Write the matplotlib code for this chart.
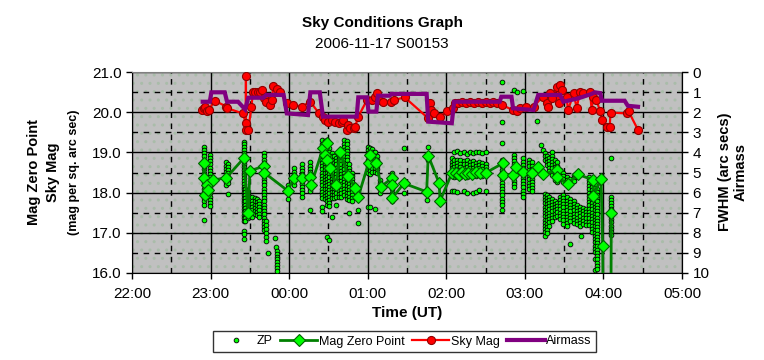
import matplotlib
matplotlib.use('Agg')
import matplotlib.pyplot as plt
from matplotlib.lines import Line2D
from matplotlib.patches import Rectangle
from matplotlib.ticker import MultipleLocator, FormatStrFormatter

plt.rcParams['font.family'] = ['Liberation Sans', 'DejaVu Sans']

# time axis in hours, values above 24 are after midnight
hour_ticks = [22, 23, 24, 25, 26, 27, 28, 29]
hour_labels = ['22:00', '23:00', '00:00', '01:00', '02:00', '03:00', '04:00', '05:00']

sky_time = [22.89, 22.91, 22.93, 22.96, 22.98, 23.05, 23.20, 23.21, 23.41, 23.45, 23.45, 23.45,
            23.48, 23.52, 23.54, 23.57, 23.60, 23.63, 23.65, 23.68, 23.71, 23.76, 23.78, 23.80,
            23.84, 23.88, 23.97, 24.05, 24.16, 24.27, 24.38, 24.43, 24.46, 24.50, 24.54, 24.58,
            24.63, 24.67, 24.69, 24.73, 24.75, 24.77, 24.82, 24.84, 24.88, 24.99, 25.05, 25.09,
            25.12, 25.14, 25.20, 25.30, 25.33, 25.47, 25.77, 25.79, 25.81, 25.84, 25.92, 26.01,
            26.09, 26.11, 26.15, 26.20, 26.25, 26.30, 26.35, 26.40, 26.45, 26.50, 26.55, 26.60,
            26.65, 26.71, 26.85, 26.90, 26.94, 27.02, 27.11, 27.23, 27.28, 27.30, 27.32, 27.34,
            27.41, 27.43, 27.45, 27.47, 27.53, 27.55, 27.62, 27.66, 27.70, 27.74, 27.83, 27.85,
            27.87, 27.91, 27.96, 27.98, 28.04, 28.08, 28.09, 28.30, 28.32, 28.44]
sky_mag = [20.06, 20.10, 20.14, 20.02, 20.06, 20.29, 20.14, 20.10, 19.97, 19.72, 20.91, 19.56,
           19.56, 20.14, 20.51, 20.51, 20.51, 20.51, 20.55, 20.35, 20.26, 20.18, 20.30, 20.65,
           20.57, 20.51, 20.22, 20.18, 20.14, 20.26, 19.97, 19.89, 19.80, 19.76, 19.80, 19.76,
           19.72, 19.76, 19.80, 19.56, 19.68, 19.60, 19.60, 19.64, 19.89, 20.30, 20.30, 20.39,
           20.47, 20.30, 20.26, 20.26, 20.30, 20.37, 19.85, 20.22, 20.06, 19.97, 19.89, 20.02,
           20.10, 20.22, 20.24, 20.25, 20.23, 20.26, 20.24, 20.25, 20.23, 20.26, 20.24, 20.25,
           20.24, 20.18, 20.05, 20.02, 20.10, 20.14, 20.14, 20.39, 20.22, 20.14, 20.47, 20.35,
           20.63, 20.22, 20.68, 20.55, 20.39, 20.05, 20.47, 20.10, 20.51, 20.47, 20.51, 20.05,
           20.39, 20.30, 20.02, 19.80, 19.64, 19.64, 19.99, 19.97, 20.02, 19.56]

mzp_time = [22.91, 22.92, 22.93, 22.95, 22.97, 23.03, 23.20, 23.42, 23.48, 23.50, 23.68, 23.68,
            23.98, 24.06, 24.16, 24.27, 24.28, 24.43, 24.46, 24.48, 24.48, 24.52, 24.60, 24.65,
            24.75, 24.84, 24.88, 25.01, 25.03, 25.11, 25.17, 25.31, 25.31, 25.31, 25.46, 25.75,
            25.77, 25.91, 25.92, 26.07, 26.12, 26.16, 26.20, 26.24, 26.28, 26.33, 26.38, 26.43,
            26.51, 26.72, 26.72, 26.85, 26.89, 26.98, 27.09, 27.17, 27.23, 27.41, 27.41, 27.55,
            27.67, 27.87, 27.87, 27.97, 27.99, 28.01, 28.09, 28.10]
mzp_mag = [18.37, 18.73, 17.94, 18.19, 18.06, 18.31, 18.37, 18.85, 17.49, 18.54, 18.66, 18.50,
           18.05, 18.36, 18.37, 18.40, 18.19, 19.10, 18.94, 19.23, 18.81, 18.60, 18.19, 19.02,
           18.41, 18.12, 17.90, 18.73, 18.94, 18.74, 18.15, 18.36, 18.19, 17.86, 18.23, 18.02,
           18.92, 18.23, 17.79, 18.48, 18.50, 18.45, 18.52, 18.47, 18.50, 18.46, 18.51, 18.48,
           18.50, 18.73, 18.45, 18.45, 18.63, 18.52, 18.48, 18.63, 18.46, 18.55, 18.38, 18.21,
           18.46, 18.31, 17.92, 18.33, 16.67, 12.00, 12.00, 17.50]

airmass_time = [22.90, 22.99, 23.01, 23.18, 23.21, 23.35, 23.44, 23.48, 23.67, 23.71, 23.93,
                23.97, 24.24, 24.27, 24.39, 24.43, 24.86, 24.88, 24.99, 25.01, 25.11, 25.13,
                25.28, 25.30, 25.75, 25.77, 26.07, 26.10, 26.68, 26.70, 26.83, 26.85, 27.11,
                27.17, 27.45, 27.49, 27.68, 27.85, 27.89, 27.96, 27.98, 28.27, 28.31, 28.44]
airmass = [1.48, 1.48, 1.01, 1.01, 1.48, 1.48, 1.86, 1.28, 1.28, 1.14, 1.14, 2.06, 2.14, 1.01,
           1.01, 2.22, 2.22, 1.26, 1.26, 1.97, 1.97, 1.18, 1.18, 1.09, 1.09, 2.47, 2.55, 1.48,
           1.48, 1.23, 1.23, 1.81, 1.89, 1.14, 1.14, 1.48, 1.31, 1.09, 1.01, 1.05, 1.43, 1.43,
           1.68, 1.73]

# individual ZP measurements, grouped by exposure time
zp_columns = [
    (22.92, [19.14, 19.06, 18.98, 18.90, 18.82, 18.74, 18.66, 18.58, 18.50, 18.42, 18.34, 18.26,
             18.18, 18.10, 18.02, 17.94, 17.86, 17.78, 17.70, 17.32]),
    (22.99, [18.94, 18.86, 18.78, 18.70, 18.62, 18.54, 18.46, 18.38, 18.30, 18.22, 18.14, 18.06,
             17.98, 17.90, 17.82, 17.74, 17.66]),
    (23.19, [18.75, 18.67, 18.59, 18.51, 18.43, 18.35, 18.27, 18.20]),
    (23.22, [18.72, 18.64, 18.56, 18.48, 18.40, 18.32, 18.24, 17.97]),
    (23.42, [19.27, 19.20, 19.13, 19.06, 18.99, 18.92, 18.85, 18.78, 18.71, 18.64, 18.57, 18.50,
             18.43, 18.36, 18.29, 18.22, 18.15, 18.08, 18.01, 17.94, 17.87, 17.80, 17.73, 17.66,
             17.59, 17.52, 17.45, 17.38, 17.30, 17.05, 16.98, 16.85]),
    (23.44, [18.10, 18.02, 17.94, 17.86, 17.78, 17.70, 17.62, 17.54, 17.46, 17.38, 17.30]),
    (23.47, [17.92, 17.84, 17.76, 17.68, 17.60, 17.52, 17.44, 17.36]),
    (23.50, [17.90, 17.82, 17.74, 17.66, 17.58, 17.50, 17.42]),
    (23.53, [17.88, 17.80, 17.72, 17.64, 17.56, 17.48, 17.40]),
    (23.56, [17.86, 17.78, 17.70, 17.62, 17.54, 17.46]),
    (23.59, [17.84, 17.76, 17.68, 17.60, 17.52, 17.44]),
    (23.62, [17.80, 17.72, 17.64, 17.56, 17.48, 17.40]),
    (23.68, [18.98, 18.90, 18.82, 18.74, 18.66, 18.58, 18.50, 18.42, 18.34, 18.26, 18.18, 18.10,
             18.02, 17.94, 17.86, 17.78, 17.70, 17.62, 17.54, 17.46, 17.38, 17.30, 17.22, 17.14,
             17.07]),
    (23.71, [17.30, 17.20, 17.10, 17.00, 16.90, 16.80]),
    (23.73, [16.50]),
    (23.82, [16.86]),
    (23.83, [16.65]),
    (23.85, [16.55, 16.48, 16.41, 16.34, 16.27, 16.20, 16.13, 16.06]),
    (23.98, [18.20, 17.85]),
    (24.06, [18.60, 18.52, 18.44, 18.36, 18.28, 18.20]),
    (24.16, [18.70, 18.62, 18.54, 18.46, 18.38, 18.30, 18.22, 18.14, 18.06, 17.98, 17.90]),
    (24.27, [18.75, 18.67, 18.59, 18.51, 18.43, 18.35, 18.27, 18.19, 18.11, 18.03, 17.57]),
    (24.42, [19.30, 19.22, 19.14, 19.06, 18.98, 18.90, 18.82, 18.74, 18.66, 18.58, 18.50, 18.42,
             18.34, 18.26, 18.18, 18.10, 18.02, 17.94, 17.86, 17.65, 17.53]),
    (24.45, [19.28, 19.20, 19.12, 19.04, 18.96, 18.88, 18.80, 18.72, 18.64, 18.56, 18.48, 18.40,
             18.32, 18.24, 18.16, 18.08, 18.00, 17.92, 17.84]),
    (24.48, [19.30, 19.22, 19.14, 19.06, 18.98, 18.90, 18.82, 18.74, 18.66, 18.58, 18.50, 18.42,
             18.34, 18.26, 18.18, 18.10, 18.02, 17.94, 17.86, 17.78, 17.70, 16.90]),
    (24.51, [19.10, 19.02, 18.94, 18.86, 18.78, 18.70, 18.62, 18.54, 18.46, 18.38, 18.30, 18.22,
             18.14, 18.06, 17.98, 17.90, 17.82, 17.74, 17.66, 16.82]),
    (24.54, [18.98, 18.90, 18.82, 18.74, 18.66, 18.58, 18.50, 18.42, 18.34, 18.26, 18.18, 18.10,
             18.02, 17.94, 17.86, 17.40]),
    (24.57, [18.90, 18.82, 18.74, 18.66, 18.58, 18.50, 18.42, 18.34, 18.26, 18.18, 18.10, 18.02,
             17.94, 17.86]),
    (24.60, [18.86, 18.78, 18.70, 18.62, 18.54, 18.46, 18.38, 18.30, 18.22, 18.14, 18.06, 17.98,
             17.90, 17.70]),
    (24.63, [19.00, 18.92, 18.84, 18.76, 18.68, 18.60, 18.52, 18.44, 18.36, 18.28, 18.20, 18.12,
             18.04, 17.96, 17.88]),
    (24.66, [18.94, 18.86, 18.78, 18.70, 18.62, 18.54, 18.46, 18.38, 18.30, 18.22, 18.14, 18.06,
             17.98, 17.90]),
    (24.70, [19.30, 19.22, 19.14, 19.06, 18.98, 18.90, 18.82, 18.74, 18.66, 18.58, 18.50, 18.42,
             18.34, 18.26, 18.18, 18.10, 18.02, 17.94]),
    (24.73, [19.28, 19.20, 19.12, 19.04, 18.96, 18.88, 18.80, 18.72, 18.64, 18.56, 18.48, 18.40,
             18.32, 18.24, 18.16, 18.08, 18.00, 17.92, 17.84]),
    (24.76, [18.70, 18.62, 18.54, 18.46, 18.38, 18.30, 18.22, 18.14, 18.06, 17.98, 17.90, 17.82,
             17.49]),
    (24.80, [18.50, 18.42, 18.34, 18.26, 18.18, 18.10, 18.02, 17.94, 17.86, 17.78]),
    (24.88, [18.10, 18.02, 17.94, 17.57, 17.25]),
    (25.00, [19.14, 19.06, 18.98, 18.90, 18.82, 18.74, 18.66, 18.58, 18.50, 17.65]),
    (25.03, [19.10, 19.02, 18.94, 18.86, 18.78, 18.70, 18.62, 18.54, 18.46, 17.65]),
    (25.06, [19.08, 19.00, 18.92, 18.84, 18.76, 18.68, 18.60, 18.52]),
    (25.09, [19.00, 18.92, 18.84, 18.76, 18.68, 18.60, 18.52, 17.60]),
    (25.12, [18.90, 18.82, 18.74, 18.66, 18.58, 18.50]),
    (25.16, [18.32, 18.24, 18.16, 18.08, 18.00]),
    (25.31, [18.48, 18.40, 18.32, 18.24, 18.16, 18.08, 18.00, 17.92, 17.84, 17.78]),
    (25.46, [19.10, 18.00]),
    (25.75, [17.82]),
    (25.77, [19.14, 18.81]),
    (26.07, [18.85, 18.77, 18.69, 18.61, 18.53, 18.45, 18.03]),
    (26.10, [19.00, 18.80, 18.72, 18.64, 18.56, 18.48, 18.40, 18.05]),
    (26.14, [19.03, 18.82, 18.74, 18.66, 18.58, 18.50, 18.42, 18.02]),
    (26.18, [18.98, 18.80, 18.72, 18.64, 18.56, 18.48, 18.40]),
    (26.22, [19.02, 18.78, 18.70, 18.62, 18.54, 18.46, 18.04]),
    (26.26, [18.96, 18.80, 18.72, 18.64, 18.56, 18.48, 18.40, 18.00]),
    (26.30, [19.00, 18.76, 18.68, 18.60, 18.52, 18.44]),
    (26.34, [18.98, 18.78, 18.70, 18.62, 18.54, 18.46, 18.00]),
    (26.38, [19.00, 18.74, 18.66, 18.58, 18.50, 18.42, 18.02]),
    (26.42, [19.00, 18.76, 18.68, 18.60, 18.52, 18.44, 18.06]),
    (26.46, [18.98, 18.74, 18.66, 18.58, 18.50, 18.42]),
    (26.50, [19.00, 18.72, 18.64, 18.56, 18.48, 18.05]),
    (26.71, [20.76, 19.75, 19.23, 18.81, 18.73, 18.65, 18.57, 18.49, 18.41, 18.33, 18.25, 18.17,
             18.09, 18.01, 17.93, 17.85, 17.77, 17.69, 17.57]),
    (26.86, [20.55, 18.94, 18.86, 18.78, 18.70, 18.62, 18.54, 18.46, 18.38, 18.30, 18.22, 18.14]),
    (26.90, [20.51]),
    (26.97, [20.53, 18.85, 18.77, 18.69, 18.61, 18.53, 18.45, 18.37, 18.29, 18.21, 18.13, 18.05,
             17.97, 17.90]),
    (27.05, [18.81, 18.73, 18.65, 18.57, 18.49, 18.41, 18.33, 18.25, 18.17, 18.09]),
    (27.09, [18.75, 18.67, 18.59, 18.51, 18.43, 18.35, 18.27, 18.19, 18.11, 18.03]),
    (27.15, [19.77]),
    (27.21, [19.18]),
    (27.23, [19.06]),
    (27.25, [18.98, 18.90, 18.82, 17.97, 17.89, 17.81, 17.73, 17.65, 17.57, 17.49, 17.41, 17.33,
             17.25, 17.17, 17.09, 17.01, 16.93]),
    (27.28, [18.92, 18.84, 18.76, 18.68, 17.95, 17.87, 17.79, 17.71, 17.63, 17.55, 17.47, 17.39,
             17.31, 17.23, 17.15, 17.07, 16.99]),
    (27.31, [18.86, 18.78, 18.70, 18.62, 18.54, 17.90, 17.82, 17.74, 17.66, 17.58, 17.50, 17.42,
             17.34, 17.26, 17.18]),
    (27.34, [19.00, 18.92, 18.84, 18.76, 18.68, 18.60, 18.52, 18.44, 17.85, 17.77, 17.69, 17.61,
             17.53, 17.45, 17.37, 17.29]),
    (27.38, [18.80, 18.72, 18.64, 18.56, 18.48, 18.40, 18.32, 17.80, 17.72, 17.64, 17.56, 17.48,
             17.40]),
    (27.41, [18.75, 18.67, 18.59, 18.51, 18.43, 18.35, 18.27, 17.75, 17.67, 17.59, 17.51, 17.43]),
    (27.45, [18.57, 18.49, 18.41, 18.33, 17.90, 17.82, 17.74, 17.66, 17.58, 17.50, 17.42, 17.34]),
    (27.49, [18.50, 18.42, 18.34, 18.26, 17.95, 17.87, 17.79, 17.71, 17.63, 17.55, 17.47, 17.39,
             17.31, 17.23]),
    (27.53, [18.40, 18.32, 18.24, 17.88, 17.80, 17.72, 17.64, 17.56, 17.48, 17.40, 17.32, 17.24,
             17.16]),
    (27.58, [18.35, 18.27, 17.85, 17.77, 17.69, 17.61, 17.53, 17.45, 17.37, 17.29, 16.72]),
    (27.62, [18.45, 18.37, 18.29, 17.80, 17.72, 17.64, 17.56, 17.48, 17.40, 17.32, 17.24]),
    (27.66, [18.50, 18.42, 17.70, 17.62, 17.54, 17.46, 17.38, 17.30, 17.22]),
    (27.70, [17.65, 17.57, 17.49, 17.41, 17.33, 17.25, 17.17]),
    (27.72, [16.92]),
    (27.74, [17.62, 17.54, 17.46, 17.38, 17.30, 17.22]),
    (27.78, [17.60, 17.52, 17.44, 17.36, 17.28, 17.20]),
    (27.82, [18.40, 18.32, 18.24, 18.16, 18.08, 18.00, 17.92, 17.84, 17.76, 17.68, 17.60, 17.52,
             17.44, 17.36, 17.28, 17.20]),
    (27.86, [18.30, 18.22, 18.14, 18.06, 17.98, 17.90, 17.82, 17.74, 17.66, 17.58, 17.50, 17.42,
             17.34, 17.26, 17.18, 17.10, 17.02]),
    (27.89, [18.20, 18.12, 18.04, 17.96, 17.88, 17.80, 17.72, 17.64, 17.56, 17.48, 17.40, 17.32,
             17.24, 17.16, 17.08, 17.00, 16.92, 16.84, 16.76, 16.68, 16.60, 16.52, 16.36, 16.07]),
    (27.92, [18.10, 18.02, 17.94, 17.86, 17.78, 17.70, 17.62, 17.54, 17.46, 17.38, 17.30, 17.22,
             17.14, 17.06, 16.98, 16.90, 16.82, 16.74, 16.66, 16.58, 16.50, 16.42, 16.34, 16.26,
             16.18, 16.10]),
    (28.10, [18.85, 17.90, 17.82, 17.74, 17.66, 17.58, 17.50, 17.42, 17.34, 17.26, 17.18, 17.10,
             17.02, 16.94]),
]

zp_time = []
zp_mag = []
for t, mags in zp_columns:
    for m in mags:
        zp_time.append(t)
        zp_mag.append(m)

W, H = 764, 360
fig = plt.figure(figsize=(W / 100, H / 100), dpi=100)
fig.patch.set_facecolor('white')

# plot area in pixels: x 132..682, y 72..273
ax = fig.add_axes([132 / W, 1 - 273 / H, 550 / W, 201 / H])
ax.set_facecolor('#C0C0C0')
ax.add_patch(Rectangle((0, 0), 1, 1, transform=ax.transAxes, facecolor='none',
                       edgecolor='#A9BCA9', hatch='..', linewidth=0, zorder=0))

ax.set_xlim(22, 29)
ax.set_ylim(16, 21)
ax.set_xticks(hour_ticks)
ax.set_xticklabels(hour_labels)
ax.xaxis.set_minor_locator(MultipleLocator(0.5))
ax.yaxis.set_major_locator(MultipleLocator(1))
ax.yaxis.set_minor_locator(MultipleLocator(0.5))
ax.yaxis.set_major_formatter(FormatStrFormatter('%.1f'))
ax.grid(which='major', color='black', linewidth=1, linestyle='-', zorder=1)
ax.grid(which='minor', color='black', linewidth=1, linestyle=(0, (4, 4)), zorder=1)
ax.set_axisbelow(True)
ax.tick_params(which='major', direction='out', length=4, width=1, labelsize=11, colors='black')
ax.tick_params(which='minor', length=0)
ax.tick_params(axis='x', pad=6)
for s in ['left', 'bottom', 'right']:
    ax.spines[s].set_color('black')
ax.spines['top'].set_color('#808080')

ax.plot(zp_time, zp_mag, linestyle='none', marker='o', markersize=3.4,
        markerfacecolor='#00FF00', markeredgecolor='black', markeredgewidth=0.6, zorder=3)
ax.plot(mzp_time, mzp_mag, color='#008000', linewidth=2, marker='D', markersize=6,
        markerfacecolor='#00FF00', markeredgecolor='#006000', markeredgewidth=0.8, zorder=4)
ax.plot(sky_time, sky_mag, color='#FF0000', linewidth=1.6, marker='o', markersize=5.8,
        markerfacecolor='#FF0000', markeredgecolor='#900000', markeredgewidth=0.8, zorder=5)

ax2 = ax.twinx()
ax2.set_ylim(10, 0)
ax2.yaxis.set_major_locator(MultipleLocator(1))
ax2.tick_params(direction='out', length=4, width=1, labelsize=11)
ax2.spines['right'].set_color('black')
ax2.spines['top'].set_visible(False)
ax2.spines['left'].set_visible(False)
ax2.spines['bottom'].set_visible(False)
ax2.plot(airmass_time, airmass, color='#800080', linewidth=3, solid_joinstyle='miter')

# titles and axis titles
fig.text(382 / W, 1 - 23 / H, 'Sky Conditions Graph', ha='center', va='center',
         fontsize=11, fontweight='bold')
fig.text(382 / W, 1 - 44 / H, '2006-11-17 S00153', ha='center', va='center', fontsize=11)
fig.text(407 / W, 1 - 313 / H, 'Time (UT)', ha='center', va='center', fontsize=11,
         fontweight='bold')
fig.text(34 / W, 1 - 172 / H, 'Mag Zero Point', ha='center', va='center', rotation=90,
         fontsize=10.5, fontweight='bold')
fig.text(53 / W, 1 - 172 / H, 'Sky Mag', ha='center', va='center', rotation=90,
         fontsize=10.5, fontweight='bold')
fig.text(74 / W, 1 - 172 / H, '(mag per sq. arc sec)', ha='center', va='center', rotation=90,
         fontsize=9, fontweight='bold')
fig.text(725 / W, 1 - 172 / H, 'FWHM (arc secs)', ha='center', va='center', rotation=90,
         fontsize=10.5, fontweight='bold')
fig.text(741 / W, 1 - 172 / H, 'Airmass', ha='center', va='center', rotation=90,
         fontsize=10.5, fontweight='bold')

handles = [
    Line2D([], [], linestyle='none', marker='o', markersize=3.4, markerfacecolor='#00FF00',
           markeredgecolor='black', markeredgewidth=0.6),
    Line2D([], [], color='#008000', linewidth=2, marker='D', markersize=6,
           markerfacecolor='#00FF00', markeredgecolor='#006000', markeredgewidth=0.8),
    Line2D([], [], color='#FF0000', linewidth=1.6, marker='o', markersize=5.8,
           markerfacecolor='#FF0000', markeredgecolor='#900000', markeredgewidth=0.8),
    Line2D([], [], color='#800080', linewidth=3),
]
leg = fig.legend(handles, ['ZP', 'Mag Zero Point', 'Sky Mag', 'Airmass'], ncol=4,
                 loc='center', bbox_to_anchor=(404.5 / W, 1 - 341.5 / H), fontsize=9,
                 frameon=True, fancybox=False, edgecolor='black', handlelength=3.0,
                 handletextpad=0.1, columnspacing=0.6, borderpad=0.35)
leg.get_frame().set_linewidth(1)

fig.savefig('out.png', dpi=100)
